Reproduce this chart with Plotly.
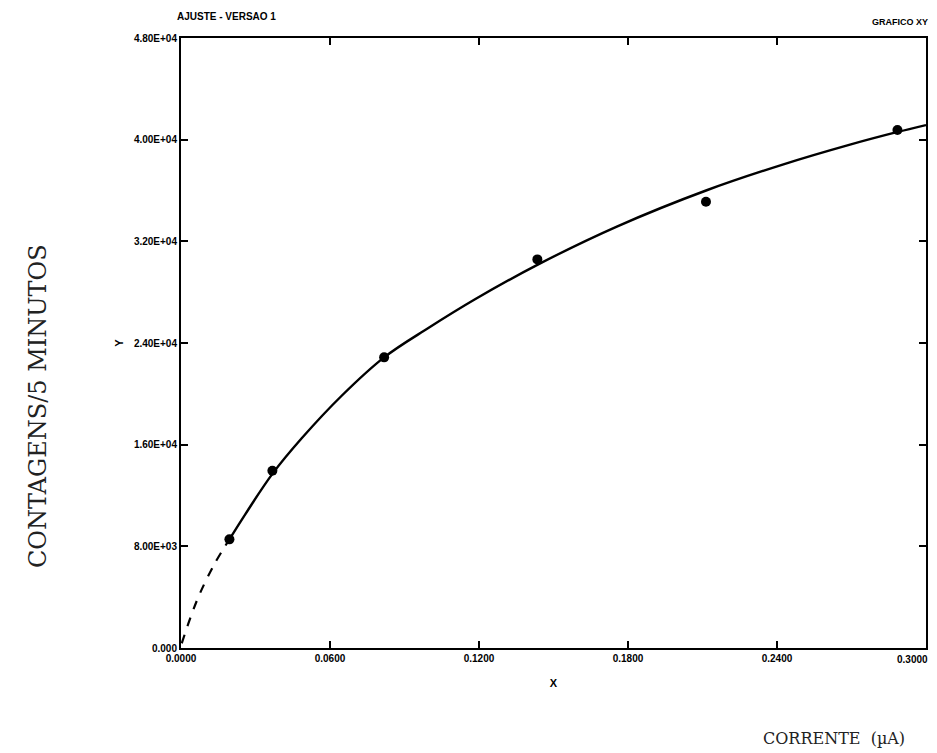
import plotly.graph_objects as go

# measured data points (corrente in uA, contagens/5 min in units of 1E+04)
x_pts = [0.0195, 0.0368, 0.0818, 0.1435, 0.2114, 0.2885]
y_pts = [0.855, 1.395, 2.287, 3.058, 3.511, 4.076]

# fitted curve
x_fit_dash = [0.0003, 0.0040, 0.0077, 0.0137, 0.0195]
y_fit_dash = [0.037, 0.250, 0.433, 0.669, 0.855]
x_fit = [0.0195, 0.0258, 0.0368, 0.0486, 0.0647, 0.0818, 0.0996, 0.1184,
         0.1433, 0.1755, 0.2117, 0.2426, 0.2694, 0.2882, 0.3000]
y_fit = [0.855, 1.050, 1.370, 1.650, 1.985, 2.287, 2.518, 2.744,
         3.013, 3.316, 3.602, 3.806, 3.961, 4.059, 4.115]

x_ticks = [0.0, 0.06, 0.12, 0.18, 0.24, 0.30]
x_tick_text = ["0.0000", "0.0600", "0.1200", "0.1800", "0.2400", "0.3000"]
y_ticks = [0.0, 0.8, 1.6, 2.4, 3.2, 4.0, 4.8]
y_tick_text = ["0.000", "8.00E+03", "1.60E+04", "2.40E+04", "3.20E+04", "4.00E+04", "4.80E+04"]

fig = go.Figure()
fig.add_trace(go.Scatter(x=x_fit_dash, y=y_fit_dash, mode="lines", line_shape="spline",
                         line=dict(color="black", width=2.2, dash="dash"),
                         showlegend=False, hoverinfo="skip"))
fig.add_trace(go.Scatter(x=x_fit, y=y_fit, mode="lines", line_shape="spline",
                         line=dict(color="black", width=2.4),
                         showlegend=False, cliponaxis=False))
fig.add_trace(go.Scatter(x=x_pts, y=y_pts, mode="markers",
                         marker=dict(color="black", size=10, symbol="circle"),
                         showlegend=False))

tick_font = dict(family="Liberation Sans, Arial, sans-serif", size=10, color="black")
# last x label is placed as an annotation (right-aligned) so it stays inside the page
x_tt = ["<b>%s</b>" % t for t in x_tick_text[:-1]] + [""]
fig.update_xaxes(range=[0, 0.30], tickvals=x_ticks, ticktext=x_tt,
                 showgrid=False, zeroline=False, showline=True, linecolor="black",
                 linewidth=2, mirror="ticks", ticks="inside", ticklen=7,
                 tickwidth=2, tickcolor="black", tickfont=tick_font,
                 title=dict(text="<b>X</b>", font=dict(size=11, color="black"), standoff=16))
fig.update_yaxes(range=[0, 4.8], tickvals=y_ticks,
                 ticktext=["<b>%s</b>" % t for t in y_tick_text],
                 showgrid=False, zeroline=False, showline=True, linecolor="black",
                 linewidth=2, mirror="ticks", ticks="inside", ticklen=7,
                 tickwidth=2, tickcolor="black", tickfont=tick_font,
                 title=dict(text="<b>Y</b>", font=dict(size=11, color="black"), standoff=8))

# page has an 8px body margin; work in page pixels
OFF = 8
W, H = 937 - OFF, 753 - OFF
PL, PR, PT, PB = 181 - OFF, 926 - OFF, 38 - OFF, 648 - OFF
def px(x):
    return (x - OFF - PL) / (PR - PL)
def py(y):
    return (PB - (y - OFF)) / (PB - PT)

fig.update_layout(
    width=W, height=H,
    margin=dict(l=PL, r=W - PR, t=PT, b=H - PB, autoexpand=False),
    paper_bgcolor="white", plot_bgcolor="white",
    font=dict(family="Liberation Sans, Arial, sans-serif", color="black"),
    annotations=[
        dict(text="<b>%s</b>" % x_tick_text[-1], x=px(930), y=0, xref="paper", yref="paper",
             yshift=-4, showarrow=False, font=tick_font, xanchor="right", yanchor="top"),
        dict(text="<b>AJUSTE - VERSAO 1</b>", x=px(175), y=py(17), xref="paper", yref="paper",
             showarrow=False, font=dict(size=10, color="black"), xanchor="left", yanchor="middle"),
        dict(text="<b>GRAFICO XY</b>", x=px(930), y=py(22), xref="paper", yref="paper",
             showarrow=False, font=dict(size=9, color="black"), xanchor="right", yanchor="middle"),
        dict(text="CONTAGENS/5 MINUTOS", textangle=-90, x=px(38), y=py(406), xref="paper", yref="paper",
             showarrow=False, xanchor="center", yanchor="middle",
             font=dict(family="DejaVu Serif, Liberation Serif, serif", size=24, color="#222")),
        dict(text="CORRENTE  (µA)", x=px(834), y=py(738), xref="paper", yref="paper",
             showarrow=False, xanchor="center", yanchor="middle",
             font=dict(family="DejaVu Serif, Liberation Serif, serif", size=16, color="#222")),
    ],
)

fig.write_html("out.html")
